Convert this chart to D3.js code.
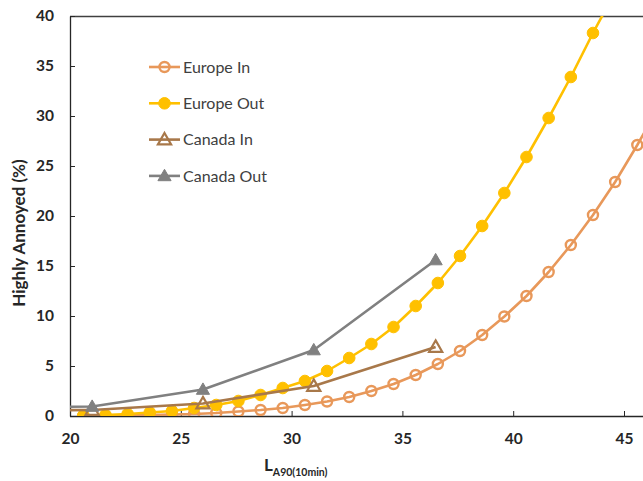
<!DOCTYPE html>
<html>
<head>
<meta charset="utf-8">
<script src="https://cdn.jsdelivr.net/npm/d3@7"></script>
<style>
  html, body { margin: 0; padding: 0; background: #fff; }
  svg { display: block; }
  text { font-family: Lato, "Open Sans", sans-serif; }
</style>
</head>
<body>
<svg id="chart" width="643" height="481"></svg>
<script>
// Noise level L_A90(10min) in dB and percentage highly annoyed
const europeLevels = [20.6, 21.6, 22.6, 23.6, 24.6, 25.6, 26.6, 27.6, 28.6, 29.6, 30.6, 31.6, 32.6,
  33.6, 34.6, 35.6, 36.6, 37.6, 38.6, 39.6, 40.6, 41.6, 42.6, 43.6, 44.6, 45.6, 46.6];
const europeIn = [0.0, 0.02, 0.05, 0.1, 0.15, 0.2, 0.3, 0.45, 0.6, 0.8, 1.1, 1.45, 1.9,
  2.5, 3.2, 4.1, 5.2, 6.5, 8.1, 9.95, 12.0, 14.4, 17.1, 20.1, 23.4, 27.1, 31.0];
const europeOut = [0.05, 0.1, 0.2, 0.35, 0.5, 0.8, 1.1, 1.5, 2.1, 2.8, 3.5, 4.5, 5.8,
  7.2, 8.9, 11.0, 13.3, 16.0, 19.0, 22.3, 25.9, 29.8, 33.9, 38.3, 42.4, null, null];
const canadaLevels = [16, 21, 26, 31, 36.5];
const canadaIn = [0.55, 0.6, 1.25, 3.0, 6.9];
const canadaOut = [0.85, 0.95, 2.65, 6.6, 15.6];

const xTicks = [20, 25, 30, 35, 40, 45];
const yTicks = [0, 5, 10, 15, 20, 25, 30, 35, 40];

const series = [
  { name: "Europe In",  x: europeLevels, y: europeIn,  color: "#E8985A", marker: "circle",   filled: false },
  { name: "Europe Out", x: europeLevels, y: europeOut, color: "#FFC000", marker: "circle",   filled: true },
  { name: "Canada In",  x: canadaLevels, y: canadaIn,  color: "#A8784A", marker: "triangle", filled: false },
  { name: "Canada Out", x: canadaLevels, y: canadaOut, color: "#808080", marker: "triangle", filled: true }
];

const svg = d3.select("#chart");
const plotLeft = 70, plotTop = 16, plotBottom = 416, plotRight = 643;
const x = d3.scaleLinear().domain([20, 46]).range([plotLeft, plotLeft + 26 * 22.16]);
const y = d3.scaleLinear().domain([0, 40]).range([plotBottom, plotTop]);

svg.append("defs").append("clipPath").attr("id", "plot")
  .append("rect").attr("x", plotLeft).attr("y", plotTop)
  .attr("width", plotRight - plotLeft).attr("height", plotBottom - plotTop);

// Frame: top border
svg.append("line").attr("x1", plotLeft).attr("x2", plotRight)
  .attr("y1", plotTop + 0.5).attr("y2", plotTop + 0.5)
  .attr("stroke", "#404040").attr("stroke-width", 1.3);

// Axes with inward ticks
const axisColor = "#262626";
const xAxis = svg.append("g").attr("transform", `translate(0,${plotBottom})`)
  .call(d3.axisBottom(x).tickValues(xTicks).tickSizeInner(-5).tickSizeOuter(0).tickPadding(17));
xAxis.select(".domain").attr("d", `M${plotLeft},0.5H${plotRight}`);
const yAxis = svg.append("g").attr("transform", `translate(${plotLeft},0)`)
  .call(d3.axisLeft(y).tickValues(yTicks).tickSizeInner(-5).tickSizeOuter(0).tickPadding(16));
[xAxis, yAxis].forEach(g => {
  g.select(".domain").attr("stroke", axisColor).attr("stroke-width", 1.3);
  g.selectAll(".tick line").attr("stroke", axisColor).attr("stroke-width", 1);
  g.selectAll(".tick text").attr("fill", "#262626").attr("font-size", 15.5)
    .attr("font-weight", "bold").attr("font-family", "Lato, 'Open Sans', sans-serif");
});
xAxis.selectAll(".tick text").attr("dy", "0.68em");

// Axis titles
svg.append("text")
  .attr("transform", `translate(25,233) rotate(-90)`)
  .attr("text-anchor", "middle")
  .attr("font-size", 17).attr("font-weight", "bold").attr("fill", "#262626")
  .text("Highly Annoyed (%)");
const xt = svg.append("text").attr("x", 264).attr("y", 471)
  .attr("font-weight", "bold").attr("fill", "#262626");
xt.append("tspan").attr("font-size", 17).text("L");
xt.append("tspan").attr("font-size", 10.5).attr("dy", 5).text("A90(10min)");

// Marker shapes
const tri = d3.symbol().type(d3.symbolTriangle).size(75);
function drawMarker(g, s, cx, cy) {
  if (s.marker === "circle") {
    g.append("circle").attr("cx", cx).attr("cy", cy).attr("r", s.filled ? 5.8 : 5)
      .attr("fill", s.filled ? s.color : "none")
      .attr("stroke", s.color).attr("stroke-width", s.filled ? 1 : 2.4);
  } else {
    g.append("path").attr("d", tri).attr("transform", `translate(${cx},${cy + 1})`)
      .attr("fill", s.filled ? s.color : "none")
      .attr("stroke", s.color).attr("stroke-width", s.filled ? 1 : 2.2);
  }
}

const plot = svg.append("g").attr("clip-path", "url(#plot)");
series.forEach(s => {
  const pts = s.x.map((v, i) => [v, s.y[i]]).filter(d => d[1] !== null);
  plot.append("path")
    .attr("d", d3.line().x(d => x(d[0])).y(d => y(d[1])) (pts))
    .attr("fill", "none").attr("stroke", s.color).attr("stroke-width", 2.6)
    .attr("stroke-linejoin", "round");
  const mg = plot.append("g");
  pts.forEach(d => drawMarker(mg, s, x(d[0]), y(d[1])));
});

// Legend
const legend = svg.append("g");
series.forEach((s, i) => {
  const ly = 67 + i * 36.3;
  legend.append("line").attr("x1", 149).attr("x2", 180).attr("y1", ly).attr("y2", ly)
    .attr("stroke", s.color).attr("stroke-width", 2.6);
  drawMarker(legend, s, 164.5, ly);
  legend.append("text").attr("x", 183).attr("y", ly).attr("dy", "0.35em")
    .attr("font-size", 16).attr("fill", "#404040").text(s.name);
});
</script>
</body>
</html>
